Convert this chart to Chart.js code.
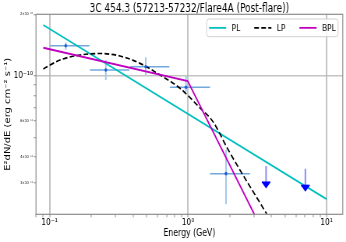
<!DOCTYPE html>
<html>
<head>
<meta charset="utf-8">
<script src="https://cdn.jsdelivr.net/npm/chart.js@4.4.1/dist/chart.umd.min.js"></script>
<style>
  html, body { margin: 0; padding: 0; background: #fff; overflow: hidden; }
  #wrap { width: 346px; height: 242px; overflow: hidden; }
  /* the reference is squeezed sideways, so draw wider and scale down */
  #sedChart { transform: scaleX(0.7793); transform-origin: 0 0; }
</style>
</head>
<body>
<div id="wrap"><canvas id="sedChart" width="444" height="242"></canvas></div>
<script>
// Fermi-LAT bins (GeV, erg cm^-2 s^-1)
const pointE   = [0.131, 0.255, 0.495, 0.967, 1.88];
const pointElo = [0.101, 0.196, 0.381, 0.741, 1.442];
const pointEhi = [0.194, 0.377, 0.733, 1.442, 2.80];
const pointF   = [1.404e-10, 1.068e-10, 1.108e-10, 0.878e-10, 3.32e-11];
const pointFlo = [1.337e-10, 0.954e-10, 1.009e-10, 0.836e-10, 2.35e-11];
const pointFhi = [1.459e-10, 1.195e-10, 1.232e-10, 0.998e-10, 4.35e-11];

// upper limits
const ulE   = [3.66, 7.03];
const ulF   = [3.62e-11, 3.51e-11];
const ulLow = [2.81e-11, 2.71e-11];

// model curves
const plE  = [0.0902, 10];
const plF  = [1.773e-10, 2.49e-11];
const lpE  = [0.0902, 0.119, 0.166, 0.232, 0.323, 0.450, 0.628, 0.875, 1.221, 1.515, 1.954, 3.70];
const lpF  = [1.080e-10, 1.195e-10, 1.264e-10, 1.286e-10, 1.250e-10, 1.151e-10, 1.009e-10, 0.869e-10, 0.696e-10, 0.596e-10, 0.433e-10, 2.107e-11];
const bplE = [0.0902, 0.995, 3.01];
const bplF = [1.372e-10, 0.943e-10, 2.1e-11];

// ticks
const xTicks = [0.08, 0.09, 0.1, 0.2, 0.3, 0.4, 0.5, 0.6, 0.7, 0.8, 0.9, 1, 2, 3, 4, 5, 6, 7, 8, 9, 10];
const xMajor = [0.1, 1, 10];
const xLabelTexts = ['10⁻¹', '10⁰', '10¹'];
const yTicks = [3e-11, 4e-11, 5e-11, 6e-11, 7e-11, 8e-11, 9e-11, 1e-10, 2e-10];
const yMajor = [1e-10];
const yLabelVals = [3e-11, 4e-11, 6e-11, 1e-10, 2e-10];
const yLabelTexts = ['3×10⁻¹¹', '4×10⁻¹¹', '6×10⁻¹¹', '10⁻¹⁰', '2×10⁻¹⁰'];

const toXY = (xs, ys) => xs.map((v, i) => ({ x: v, y: ys[i] }));

Chart.defaults.font.family = '"DejaVu Sans", sans-serif';
Chart.defaults.color = '#000';

// error bars and upper limit arrows, drawn through the scales
const errorBars = {
    id: 'errorBars',
    beforeDatasetsDraw(chart) {
        const { ctx, chartArea, scales: { x, y } } = chart;
        ctx.save();
        ctx.beginPath();
        ctx.rect(chartArea.left, chartArea.top, chartArea.width, chartArea.height);
        ctx.clip();
        for (let i = 0; i < pointE.length; i++) {
            const px = x.getPixelForValue(pointE[i]);
            const py = y.getPixelForValue(pointF[i]);
            ctx.strokeStyle = '#72a8dc';
            ctx.lineWidth = 1.5;
            ctx.beginPath();
            ctx.moveTo(x.getPixelForValue(pointElo[i]), py);
            ctx.lineTo(x.getPixelForValue(pointEhi[i]), py);
            ctx.stroke();
            ctx.strokeStyle = '#a2c9ec';
            ctx.lineWidth = 2;
            ctx.beginPath();
            ctx.moveTo(px, y.getPixelForValue(pointFlo[i]));
            ctx.lineTo(px, y.getPixelForValue(pointFhi[i]));
            ctx.stroke();
        }
        ctx.restore();
    },
    afterDatasetsDraw(chart) {
        const { ctx, scales: { x, y } } = chart;
        ctx.save();
        for (let i = 0; i < ulE.length; i++) {
            const px = x.getPixelForValue(ulE[i]);
            const top = y.getPixelForValue(ulF[i]);
            const tip = y.getPixelForValue(ulLow[i]);
            ctx.strokeStyle = '#8c8cf2';
            ctx.lineWidth = 2;
            ctx.beginPath();
            ctx.moveTo(px, top);
            ctx.lineTo(px, tip - 5);
            ctx.stroke();
            ctx.fillStyle = '#0000ff';
            ctx.fillRect(px - 5.5, tip - 7, 11, 1.6);
            ctx.beginPath();
            ctx.moveTo(px - 5.5, tip - 6);
            ctx.lineTo(px + 5.5, tip - 6);
            ctx.lineTo(px, tip);
            ctx.closePath();
            ctx.fill();
        }
        ctx.restore();
    }
};

// boxed legend in the upper right, plus the full frame
const boxLegend = {
    id: 'boxLegend',
    afterDraw(chart) {
        const { ctx, chartArea } = chart;
        ctx.save();
        ctx.strokeStyle = '#8c8c8c';
        ctx.lineWidth = 1.2;
        ctx.strokeRect(chartArea.left, chartArea.top, chartArea.width, chartArea.height);

        const items = chart.data.datasets.filter(d => d.inLegend);
        ctx.font = '9.5px "DejaVu Sans"';
        const lineLen = 22, gap = 7, colGap = 18, pad = 3;
        let w = pad * 2;
        items.forEach((d, i) => { w += lineLen + gap + ctx.measureText(d.label).width + (i ? colGap : 0); });
        const h = 17.7;
        const left = chartArea.right - 6 - w;
        const top = chartArea.top + 4.7;
        ctx.beginPath();
        if (ctx.roundRect) ctx.roundRect(left, top, w, h, 3); else ctx.rect(left, top, w, h);
        ctx.fillStyle = 'rgba(255,255,255,0.8)';
        ctx.fill();
        ctx.strokeStyle = '#d0d0d0';
        ctx.lineWidth = 1;
        ctx.stroke();

        let cx = left + pad;
        const cy = top + h / 2;
        ctx.textBaseline = 'middle';
        ctx.fillStyle = '#000';
        items.forEach(d => {
            ctx.strokeStyle = d.borderColor;
            ctx.lineWidth = d.borderWidth;
            ctx.setLineDash(d.borderDash || []);
            ctx.beginPath();
            ctx.moveTo(cx, cy);
            ctx.lineTo(cx + lineLen, cy);
            ctx.stroke();
            ctx.setLineDash([]);
            ctx.fillText(d.label, cx + lineLen + gap, cy + 0.5);
            cx += lineLen + gap + ctx.measureText(d.label).width + colGap;
        });
        ctx.restore();
    }
};

var ctxSed = document.getElementById('sedChart').getContext('2d');
var sedChart = new Chart(ctxSed, {
    type: 'scatter',
    data: {
        datasets: [
            {
                label: 'data',
                data: toXY(pointE, pointF),
                pointRadius: 1.8,
                pointBackgroundColor: '#1f5fd6',
                pointBorderWidth: 0,
                showLine: false,
                order: 0
            },
            {
                label: 'PL',
                inLegend: true,
                data: toXY(plE, plF),
                showLine: true,
                borderColor: '#00bfbf',
                borderWidth: 1.8,
                pointRadius: 0,
                order: 3
            },
            {
                label: 'LP',
                inLegend: true,
                data: toXY(lpE, lpF),
                showLine: true,
                borderColor: '#000000',
                borderWidth: 1.7,
                borderDash: [6, 3],
                cubicInterpolationMode: 'monotone',
                pointRadius: 0,
                order: 2
            },
            {
                label: 'BPL',
                inLegend: true,
                data: toXY(bplE, bplF),
                showLine: true,
                borderColor: '#bf00bf',
                borderWidth: 1.8,
                pointRadius: 0,
                order: 1
            }
        ]
    },
    options: {
        responsive: false,
        animation: false,
        devicePixelRatio: 1,
        layout: { padding: { left: 0, right: 4.2, top: 0, bottom: 0 } },
        plugins: {
            legend: { display: false },
            tooltip: { enabled: false },
            title: {
                display: true,
                fullSize: false,
                text: '3C 454.3 (57213-57232/Flare4A (Post-flare))',
                font: { size: 11.5, weight: 'normal', lineHeight: 1.0 },
                padding: { top: 2.8, bottom: 0 }
            }
        },
        scales: {
            x: {
                type: 'logarithmic',
                min: 0.0799,
                max: 13.09,
                afterBuildTicks: s => { s.ticks = xTicks.map(v => ({ value: v, major: xMajor.includes(v) })); },
                afterFit: s => { s.height = 27.7; },
                border: { display: false },
                grid: {
                    color: c => (c.tick && xMajor.includes(c.tick.value)) ? 'rgba(176,176,176,0.75)' : 'rgba(0,0,0,0)',
                    lineWidth: 2,
                    tickColor: '#8c8c8c',
                    tickWidth: 1,
                    tickLength: 3
                },
                ticks: {
                    autoSkip: false,
                    maxRotation: 0,
                    padding: 0,
                    font: { size: 9.5 },
                    callback: v => { const i = xMajor.indexOf(v); return i < 0 ? '' : xLabelTexts[i]; }
                },
                title: {
                    display: true,
                    text: 'Energy (GeV)',
                    font: { size: 10 },
                    padding: { top: 0, bottom: 2.5 }
                }
            },
            y: {
                type: 'logarithmic',
                min: 2.1e-11,
                max: 2.0e-10,
                afterBuildTicks: s => { s.ticks = yTicks.map(v => ({ value: v, major: yMajor.includes(v) })); },
                afterFit: s => { s.width = 46.2; },
                border: { display: false },
                grid: {
                    color: c => (c.tick && yMajor.includes(c.tick.value)) ? 'rgba(176,176,176,0.75)' : 'rgba(0,0,0,0)',
                    lineWidth: 1.5,
                    tickColor: '#8c8c8c',
                    tickWidth: 1,
                    tickLength: 3
                },
                ticks: {
                    autoSkip: false,
                    padding: 1,
                    font: c => ({ size: (c.tick && yMajor.includes(c.tick.value)) ? 9.5 : 4 }),
                    callback: v => { const i = yLabelVals.indexOf(v); return i < 0 ? '' : yLabelTexts[i]; }
                },
                title: {
                    display: true,
                    text: 'E²dN/dE (erg cm⁻² s⁻¹)',
                    font: { size: 10 },
                    padding: { top: 4.3, bottom: 0 }
                }
            }
        }
    },
    plugins: [errorBars, boxLegend]
});
</script>
</body>
</html>
